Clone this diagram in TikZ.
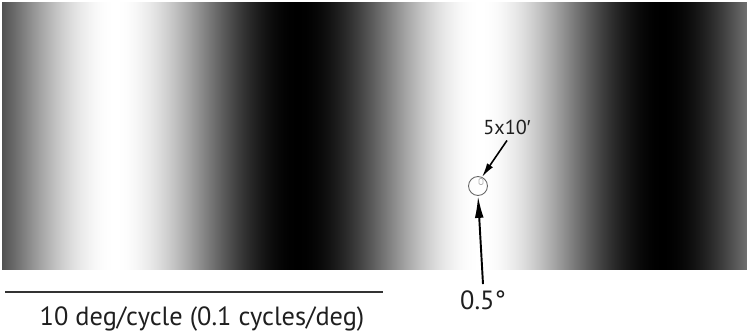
\documentclass[tikz,border=0pt]{standalone}
\usepackage{fontspec}
\setmainfont{PT Sans}
\newfontfamily\primefont{Liberation Sans}
\usetikzlibrary{arrows.meta}
\tikzset{
    gratingstrip/.style={
        line width=0pt
    },
    scalebar/.style={
        draw=black!80,
        line width=1.1pt
    },
    scaletext/.style={
        anchor=base,
        text=black!88,
        font=\fontsize{15}{18}\selectfont
    },
    patchring/.style={
        circle,
        draw=black!60,
        line width=0.5pt,
        minimum size=10.8pt,
        inner sep=0pt
    },
    patchtarget/.style={
        rectangle,
        draw=black!30,
        rounded corners=0.6pt,
        line width=0.4pt,
        minimum width=2.2pt,
        minimum height=3.4pt,
        inner sep=0pt
    },
    pointerarrow/.style={
        -{Latex[length=12.5pt,width=5pt]},
        draw=black,
        line width=1.1pt
    },
    labelarrow/.style={
        -{Latex[length=8pt,width=4pt]},
        draw=black,
        line width=0.9pt
    }
}

\begin{document}
\begin{tikzpicture}[x=0.02cm,y=-0.02cm]
    \useasboundingbox (0,0) rectangle (750,335);

    % sinusoidal grating, one strip per pixel
    \begin{scope}
        \clip (2,2) rectangle (747,270);
        \foreach \px in {2,...,746} {
            \pgfmathsetmacro\bright{min(100,max(0,50+50*cos(0.98630*(\px-115))))}
            \fill[gratingstrip,white!\bright!black] (\px,2) rectangle (\px+1.4,270);
        }
    \end{scope}

    % patch and labels
    \node[patchring] (patch) at (478,186) {};
    \node[patchtarget] (target) at (481,181.5) {};
    \node[scaletext,font=\fontsize{11.5}{13}\selectfont] (sizelabel) at (507,134) {5x10{\primefont ′}};
    \node[scaletext] (offsetlabel) at (483,309) {0.5°};

    \draw[labelarrow] (sizelabel.south) -- (patch.66);
    \draw[pointerarrow] (offsetlabel.north) -- (patch.south);

    % scale bar
    \coordinate (barleft) at (5,292);
    \coordinate (barright) at (383,292);
    \draw[scalebar] (barleft) -- (barright);
    \node[scaletext] (scalelabel) at (202,325) {10 deg/cycle (0.1 cycles/deg)};
\end{tikzpicture}
\end{document}
